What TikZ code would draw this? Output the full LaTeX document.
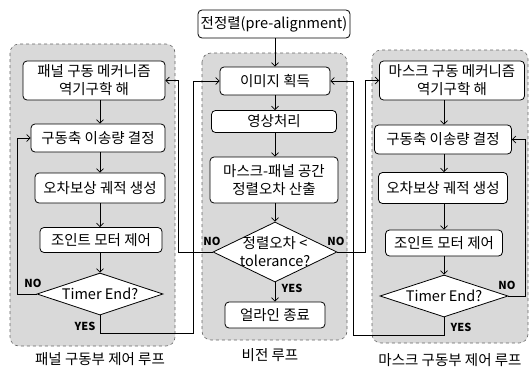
\documentclass[tikz,border=0pt]{standalone}
\usepackage{fontspec}
\setmainfont{Noto Sans CJK KR}
\usetikzlibrary{arrows.meta,shapes.geometric}
\begin{document}
\begin{tikzpicture}[x=1pt,y=-1pt,
  font=\fontsize{14.5}{18}\selectfont,
  grp/.style={draw=black!60, dashed, fill=black!15, rounded corners=9pt, line width=0.6pt},
  box/.style={draw, rounded corners=4pt, fill=white, line width=0.8pt, align=center, inner sep=0pt},
  dia/.style={draw, diamond, fill=white, inner sep=0pt, line width=0.8pt},
  arr/.style={-{Straight Barb[length=3.5pt,width=7pt]}, line width=0.7pt},
  yn/.style={font=\fontsize{11}{12}\selectfont\bfseries, inner sep=0pt},
  grpcap/.style={inner sep=0pt}]
\useasboundingbox (0,0) rectangle (532,367);
% groups
\draw[grp] (10,44) rectangle (175,346);
\draw[grp] (202,53) rectangle (347,340);
\draw[grp] (372,50) rectangle (528,343);
% left column
\node[box, minimum width=142pt, minimum height=39pt] (p1) at (94,80.5) {패널 구동 메커니즘\\역기구학 해};
\node[box, minimum width=134pt, minimum height=28pt] (p2) at (98,138) {구동축 이송량 결정};
\node[box, minimum width=130pt, minimum height=30pt] (p3) at (100,188) {오차보상 궤적 생성};
\node[box, minimum width=122pt, minimum height=25pt] (p4) at (101,240) {조인트 모터 제어};
\node[dia, minimum width=126pt, minimum height=42pt] (pd) at (100,294) {};
\node (pdt) at (pd.center) {Timer End?};
% center column
\node[box, minimum width=152pt, minimum height=28pt] (c0) at (274,24) {전정렬(pre-alignment)};
\node[box, minimum width=110pt, minimum height=28pt] (c1) at (275,81) {이미지 획득};
\node[box, minimum width=125pt, minimum height=22pt] (c2) at (274,121.5) {영상처리};
\node[box, minimum width=128pt, minimum height=46pt] (c3) at (274,180) {마스크-패널 공간\\정렬오차 산출};
\node[dia, minimum width=124pt, minimum height=60pt] (cd) at (275,252) {};
\node[align=center, inner sep=0pt] (cdt) at (cd.center) {정렬오차 <\\tolerance?};
\node[box, minimum width=100pt, minimum height=26pt] (c4) at (275,315) {얼라인 종료};
% right column
\node[box, minimum width=145pt, minimum height=39pt] (m1) at (452,80.5) {마스크 구동 메커니즘\\역기구학 해};
\node[box, minimum width=137pt, minimum height=29pt] (m2) at (443,139.5) {구동축 이송량 결정};
\node[box, minimum width=129pt, minimum height=31pt] (m3) at (443,188) {오차보상 궤적 생성};
\node[box, minimum width=117pt, minimum height=26pt] (m4) at (444,243) {조인트 모터 제어};
\node[dia, minimum width=128pt, minimum height=42pt] (md) at (444,296) {};
\node (mdt) at (md.center) {Timer End?};
% captions
\node[grpcap] (lc) at (100,359) {패널 구동부 제어 루프};
\node[grpcap] (cc) at (270,355) {비전 루프};
\node[grpcap] (rc) at (450,360) {마스크 구동부 제어 루프};
% yes/no labels
\node[yn] (n1) at (33,283) {NO};
\node[yn] (y1) at (85,326) {YES};
\node[yn] (n2) at (212,241) {NO};
\node[yn] (n3) at (336,241) {NO};
\node[yn] (y2) at (292,288) {YES};
\node[yn] (n4) at (507,285) {NO};
\node[yn] (y3) at (461,327) {YES};
% coordinates for routing
\coordinate (lnx) at (17,294);
\coordinate (ly) at (193,333);
\coordinate (vl) at (178,252);
\coordinate (vr) at (365,252);
\coordinate (ry) at (353,335);
\coordinate (rn) at (525,296);
% left arrows
\draw[arr] (p1.south -| pd) -- (p2.north -| pd);
\draw[arr] (p2.south -| pd) -- (p3.north -| pd);
\draw[arr] (p3.south -| pd) -- (p4.north -| pd);
\draw[arr] (p4.south -| pd) -- (pd.north);
\draw[arr] (pd.west) -- (lnx) |- (p2.west);
\draw[arr] (pd.south) |- (ly) |- (c1.west);
% center arrows
\draw[arr] (c0.south -| cd) -- (c1.north -| cd);
\draw[arr] (c1.south -| cd) -- (c2.north -| cd);
\draw[arr] (c2.south -| cd) -- (c3.north -| cd);
\draw[arr] (c3.south -| cd) -- (cd.north);
\draw[arr] (cd.south) -- (c4.north -| cd);
\draw[arr] (cd.west) -- (vl) |- (p1.east);
\draw[arr] (cd.east) -- (vr) |- (m1.west);
% right arrows
\draw[arr] (m1.south -| md) -- (m2.north -| md);
\draw[arr] (m2.south -| md) -- (m3.north -| md);
\draw[arr] (m3.south -| md) -- (m4.north -| md);
\draw[arr] (m4.south -| md) -- (md.north);
\draw[arr] (md.east) -- (rn) |- (m2.east);
\draw[arr] (md.south) |- (ry) |- (c1.east);
\end{tikzpicture}
\end{document}
